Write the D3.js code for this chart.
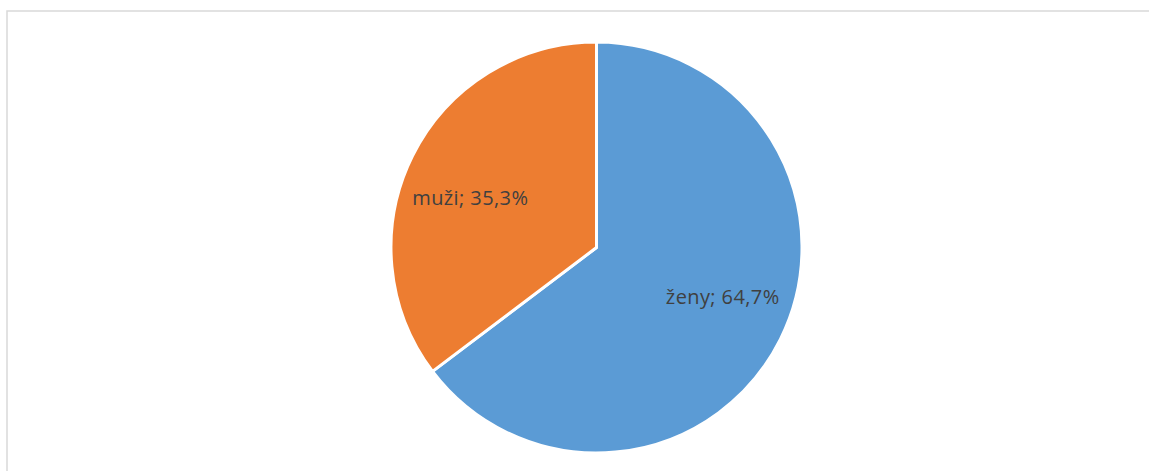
<!DOCTYPE html>
<html>
<script src="https://d3js.org/d3.v7.min.js"></script>
<head>
<style>
  body {margin: 0; background: #fff; font-family: "Open Sans", sans-serif;}
  .label {font-size: 20px; fill: #404040; letter-spacing: 0.4px;}
</style>
</head>
<body>
<svg id="chart" width="1149" height="471"></svg>
<script>
// data
var categories = ["ženy", "muži"];
var values = [64.7, 35.3];
var colors = ["#5B9BD5", "#ED7D31"];

var svg = d3.select("#chart");

// chart frame
svg.append("rect")
    .attr("x", 7)
    .attr("y", 11)
    .attr("width", 1160)
    .attr("height", 480)
    .attr("fill", "#fff")
    .attr("stroke", "#d9d9d9")
    .attr("stroke-width", 1.5);

var cx = 596.5, cy = 247.5, radius = 205.5;

var data = categories.map(function(c, i) { return {name: c, value: values[i]}; });

var pie = d3.pie()
    .sort(null)
    .value(function(d) { return d.value; });

var arc = d3.arc().innerRadius(0).outerRadius(radius);

// label placement: a bit wider than tall, like excel's best fit
var labelRx = 141, labelRy = 112;
function labelPos(d) {
  var a = (d.startAngle + d.endAngle) / 2;
  return [Math.sin(a) * labelRx, -Math.cos(a) * labelRy];
}

var g = svg.append("g").attr("transform", "translate(" + cx + "," + cy + ")");

g.selectAll("path")
    .data(pie(data))
    .enter().append("path")
    .attr("d", arc)
    .attr("fill", function(d, i) { return colors[i]; })
    .attr("stroke", "#fff")
    .attr("stroke-width", 3)
    .attr("stroke-linejoin", "round");

g.selectAll("text")
    .data(pie(data))
    .enter().append("text")
    .attr("class", "label")
    .attr("transform", function(d) { return "translate(" + labelPos(d) + ")"; })
    .attr("text-anchor", "middle")
    .attr("dy", "0.35em")
    .text(function(d) { return d.data.name + "; " + d3.format(".1f")(d.data.value).replace(".", ",") + "%"; });
</script>
</body>
</html>
